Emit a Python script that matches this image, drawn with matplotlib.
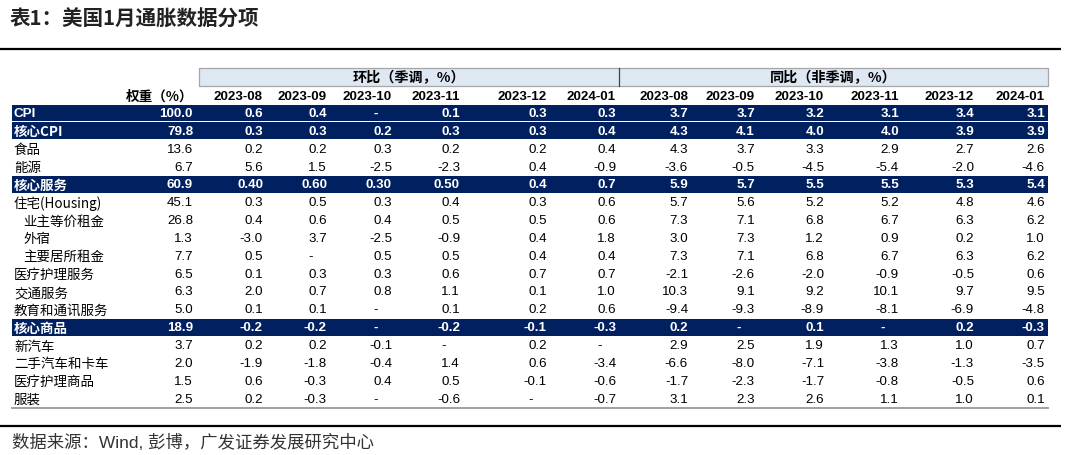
import matplotlib
matplotlib.use("Agg")
from matplotlib import pyplot as plt
from matplotlib.patches import Rectangle

CJK = ["Noto Sans CJK SC", "DejaVu Sans"]
NUM = ["Liberation Sans", "Noto Sans CJK SC"]
NAVY = "#002060"

title = "表1：美国1月通胀数据分项"
source = "数据来源：Wind, 彭博，广发证券发展研究中心"
group_labels = ["环比（季调，%）", "同比（非季调，%）"]
months = ["2023-08", "2023-09", "2023-10", "2023-11", "2023-12", "2024-01"]

categories = ["CPI", "核心CPI", "食品", "能源", "核心服务", "住宅(Housing)",
              "业主等价租金", "外宿", "主要居所租金", "医疗护理服务", "交通服务",
              "教育和通讯服务", "核心商品", "新汽车", "二手汽车和卡车",
              "医疗护理商品", "服装"]
highlight = ["CPI", "核心CPI", "核心服务", "核心商品"]
indented = ["业主等价租金", "外宿", "主要居所租金"]

weights = ["100.0", "79.8", "13.6", "6.7", "60.9", "45.1", "26.8", "1.3", "7.7",
           "6.5", "6.3", "5.0", "18.9", "3.7", "2.0", "1.5", "2.5"]

mom = [
    ["0.6", "0.4", "-", "0.1", "0.3", "0.3"],
    ["0.3", "0.3", "0.2", "0.3", "0.3", "0.4"],
    ["0.2", "0.2", "0.3", "0.2", "0.2", "0.4"],
    ["5.6", "1.5", "-2.5", "-2.3", "0.4", "-0.9"],
    ["0.40", "0.60", "0.30", "0.50", "0.4", "0.7"],
    ["0.3", "0.5", "0.3", "0.4", "0.3", "0.6"],
    ["0.4", "0.6", "0.4", "0.5", "0.5", "0.6"],
    ["-3.0", "3.7", "-2.5", "-0.9", "0.4", "1.8"],
    ["0.5", "-", "0.5", "0.5", "0.4", "0.4"],
    ["0.1", "0.3", "0.3", "0.6", "0.7", "0.7"],
    ["2.0", "0.7", "0.8", "1.1", "0.1", "1.0"],
    ["0.1", "0.1", "-", "0.1", "0.2", "0.6"],
    ["-0.2", "-0.2", "-", "-0.2", "-0.1", "-0.3"],
    ["0.2", "0.2", "-0.1", "-", "0.2", "-"],
    ["-1.9", "-1.8", "-0.4", "1.4", "0.6", "-3.4"],
    ["0.6", "-0.3", "0.4", "0.5", "-0.1", "-0.6"],
    ["0.2", "-0.3", "-", "-0.6", "-", "-0.7"],
]

yoy = [
    ["3.7", "3.7", "3.2", "3.1", "3.4", "3.1"],
    ["4.3", "4.1", "4.0", "4.0", "3.9", "3.9"],
    ["4.3", "3.7", "3.3", "2.9", "2.7", "2.6"],
    ["-3.6", "-0.5", "-4.5", "-5.4", "-2.0", "-4.6"],
    ["5.9", "5.7", "5.5", "5.5", "5.3", "5.4"],
    ["5.7", "5.6", "5.2", "5.2", "4.8", "4.6"],
    ["7.3", "7.1", "6.8", "6.7", "6.3", "6.2"],
    ["3.0", "7.3", "1.2", "0.9", "0.2", "1.0"],
    ["7.3", "7.1", "6.8", "6.7", "6.3", "6.2"],
    ["-2.1", "-2.6", "-2.0", "-0.9", "-0.5", "0.6"],
    ["10.3", "9.1", "9.2", "10.1", "9.7", "9.5"],
    ["-9.4", "-9.3", "-8.9", "-8.1", "-6.9", "-4.8"],
    ["0.2", "-", "0.1", "-", "0.2", "-0.3"],
    ["2.9", "2.5", "1.9", "1.3", "1.0", "0.7"],
    ["-6.6", "-8.0", "-7.1", "-3.8", "-1.3", "-3.5"],
    ["-1.7", "-2.3", "-1.7", "-0.8", "-0.5", "0.6"],
    ["3.1", "2.3", "2.6", "1.1", "1.0", "0.1"],
]

# layout in pixel units
W, H = 1080, 456
left, right = 12, 1048
weight_x = 193
mom_x = [263, 327, 392, 460, 547, 616]
yoy_x = [688, 755, 824, 899, 974, 1045]
first_row_y = 114
row_h = 17.85
header_y = 97
band_top, band_bot = 69, 87
split_x = 619
num_size = 9.6
label_size = 9.7

fig = plt.figure(figsize=(W / 100, H / 100), dpi=100)
ax = fig.add_axes([0, 0, 1, 1])
ax.set_xlim(0, W)
ax.set_ylim(H, 0)
ax.axis("off")

ax.text(10, 19, title, family=CJK, fontsize=14.8, fontweight="bold",
        color="#222222", va="center", ha="left")
ax.plot([0, 1061], [49.5, 49.5], color="black", lw=1.6, solid_capstyle="butt")
ax.plot([0, 1061], [427, 427], color="black", lw=1.6, solid_capstyle="butt")

# group header band
ax.add_patch(Rectangle((199, band_top), right - 199, band_bot - band_top,
                       facecolor="#dde8f3", edgecolor="#a6a6a6", lw=0.9))
ax.plot([split_x, split_x], [band_top, band_bot], color="#444444", lw=0.9)
ax.text((199 + split_x) / 2, 78.5, group_labels[0], family=CJK, fontsize=10.2,
        fontweight="bold", ha="center", va="center", color="black")
ax.text((split_x + right) / 2, 78.5, group_labels[1], family=CJK, fontsize=10.2,
        fontweight="bold", ha="center", va="center", color="black")

# column header row
ax.text(weight_x, header_y, "权重（%）", family=CJK, fontsize=9.8,
        fontweight="bold", ha="right", va="center", color="black")
for j, m in enumerate(months):
    for xs in (mom_x, yoy_x):
        ax.text(xs[j], header_y, m, family=NUM, fontsize=num_size,
                fontweight="bold", ha="right", va="center", color="black")


def put_value(x, y, s, color, weight):
    if s == "-":
        x = x - 14
    ax.text(x, y, s, family=NUM, fontsize=num_size, fontweight=weight,
            ha="right", va="center", color=color)


for i, cat in enumerate(categories):
    y = first_row_y + i * row_h
    dark = cat in highlight
    color = "white" if dark else "black"
    weight = "bold" if dark else "normal"
    if dark:
        ax.add_patch(Rectangle((left, y - row_h / 2 + 0.5), right - left,
                               row_h - 1.0, facecolor=NAVY, edgecolor="none"))
    label_x = left + 2 + (9 if cat in indented else 0)
    ax.text(label_x, y + 0.5, cat, family=CJK if cat != "CPI" else NUM,
            fontsize=label_size, fontweight=weight, ha="left", va="center",
            color=color)
    put_value(weight_x, y, weights[i], color, weight)
    for j in range(len(months)):
        put_value(mom_x[j], y, mom[i][j], color, weight)
        put_value(yoy_x[j], y, yoy[i][j], color, weight)

bottom_y = first_row_y + (len(categories) - 0.5) * row_h + 0.5
ax.plot([left, right], [bottom_y, bottom_y], color="#a0a0a0", lw=1.4)

ax.text(12, 443, source, family=NUM, fontsize=12.5, color="#333333",
        ha="left", va="center")

fig.savefig("out.png", dpi=100)
